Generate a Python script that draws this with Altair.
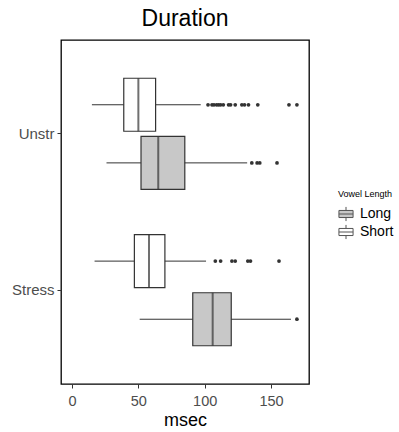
import altair as alt
import pandas as pd

# Box statistics (msec)
conds = ["Unstr", "Unstr", "Stress", "Stress"]
lengths = ["Short", "Long", "Short", "Long"]
w_low = [15, 26, 17, 51]
q1 = [39, 52, 47, 91]
med = [50, 65, 58, 106]
q3 = [63, 85, 70, 120]
w_high = [97, 132, 101, 165]

# Outliers
out_cond = (["Unstr"] * 16 + ["Unstr"] * 4 + ["Stress"] * 7 + ["Stress"] * 1)
out_len = (["Short"] * 16 + ["Long"] * 4 + ["Short"] * 7 + ["Long"] * 1)
out_val = [102.5, 105.5, 107, 109, 110.5, 112, 114, 118, 119.5, 123, 128, 130, 133, 140, 163.5, 169.5,
           135.5, 139.5, 141.5, 154.5,
           108, 112, 120.5, 123, 132.5, 134.5, 156,
           169.5]

boxes = pd.DataFrame(dict(cond=conds, len=lengths, low=w_low, q1=q1, med=med, q3=q3, high=w_high))
outs = pd.DataFrame(dict(cond=out_cond, len=out_len, val=out_val))

xscale = alt.Scale(domain=[-8.3, 178.6], nice=False, zero=False)
yenc = alt.Y("cond:N", sort=["Unstr", "Stress"], title=None,
             scale=alt.Scale(paddingInner=0, paddingOuter=0.1),
             axis=alt.Axis(labelFontSize=15, labelColor="#4d4d4d", labelFont="Liberation Sans",
                           tickColor="#333333", tickSize=4, labelPadding=3, domain=False, grid=False))
yoff = alt.YOffset("len:N", sort=["Short", "Long"],
                   scale=alt.Scale(paddingInner=0, paddingOuter=0.345))
xaxis = alt.Axis(values=[0, 50, 100, 150], labelFontSize=14.5, labelColor="#4d4d4d",
                 labelFont="Liberation Sans", tickColor="#333333", tickSize=4, labelPadding=6,
                 domain=False, grid=False, title="msec", titleFontSize=18,
                 titleFont="Liberation Sans", titleFontWeight="normal", titleColor="#000000",
                 titlePadding=4)

base = alt.Chart(boxes)

whisk = base.mark_rule(color="#333333", strokeWidth=1).encode(
    x=alt.X("low:Q", scale=xscale, axis=xaxis), x2="high:Q", y=yenc, yOffset=yoff)

legend_path = "M-1,-0.5H1V0.5H-1Z M-1,0H1 M0,-0.5V-1 M0,0.5V1"
box = base.mark_bar(size=53, stroke="#333333", strokeWidth=1.2).encode(
    x="q1:Q", x2="q3:Q", y=yenc, yOffset=yoff,
    fill=alt.Fill("len:N", scale=alt.Scale(domain=["Long", "Short"], range=["#C8C8C8", "#FFFFFF"]),
                  legend=alt.Legend(title="Vowel Length", orient="none", legendX=277, legendY=150,
                                    titleFontSize=9, titleFontWeight="normal", titleFont="Liberation Sans",
                                    titleColor="#000000", labelFontSize=14, labelFont="Liberation Sans",
                                    labelColor="#000000", symbolType=legend_path, symbolSize=200,
                                    symbolStrokeColor="#555555", symbolStrokeWidth=1,
                                    rowPadding=-6, labelOffset=6, titlePadding=7)))

median = base.mark_tick(color="#333333", thickness=2, size=53).encode(
    x="med:Q", y=yenc, yOffset=yoff)

pts = alt.Chart(outs).mark_circle(color="#333333", size=14, opacity=1).encode(
    x="val:Q", y=yenc, yOffset=yoff)

chart = alt.layer(whisk, box, median, pts).properties(
    width=248, height=344,
    background="white",
    title=alt.TitleParams("Duration", fontSize=23, font="Liberation Sans", fontWeight="normal",
                          color="#000000", anchor="middle", offset=9),
    autosize=alt.AutoSizeParams(type="none"),
    padding={"left": 61, "top": 40, "right": 90, "bottom": 48},
).configure_view(stroke="#000000", strokeWidth=1.3)

chart.save("out.html", embed_options={"renderer": "svg", "actions": False})
